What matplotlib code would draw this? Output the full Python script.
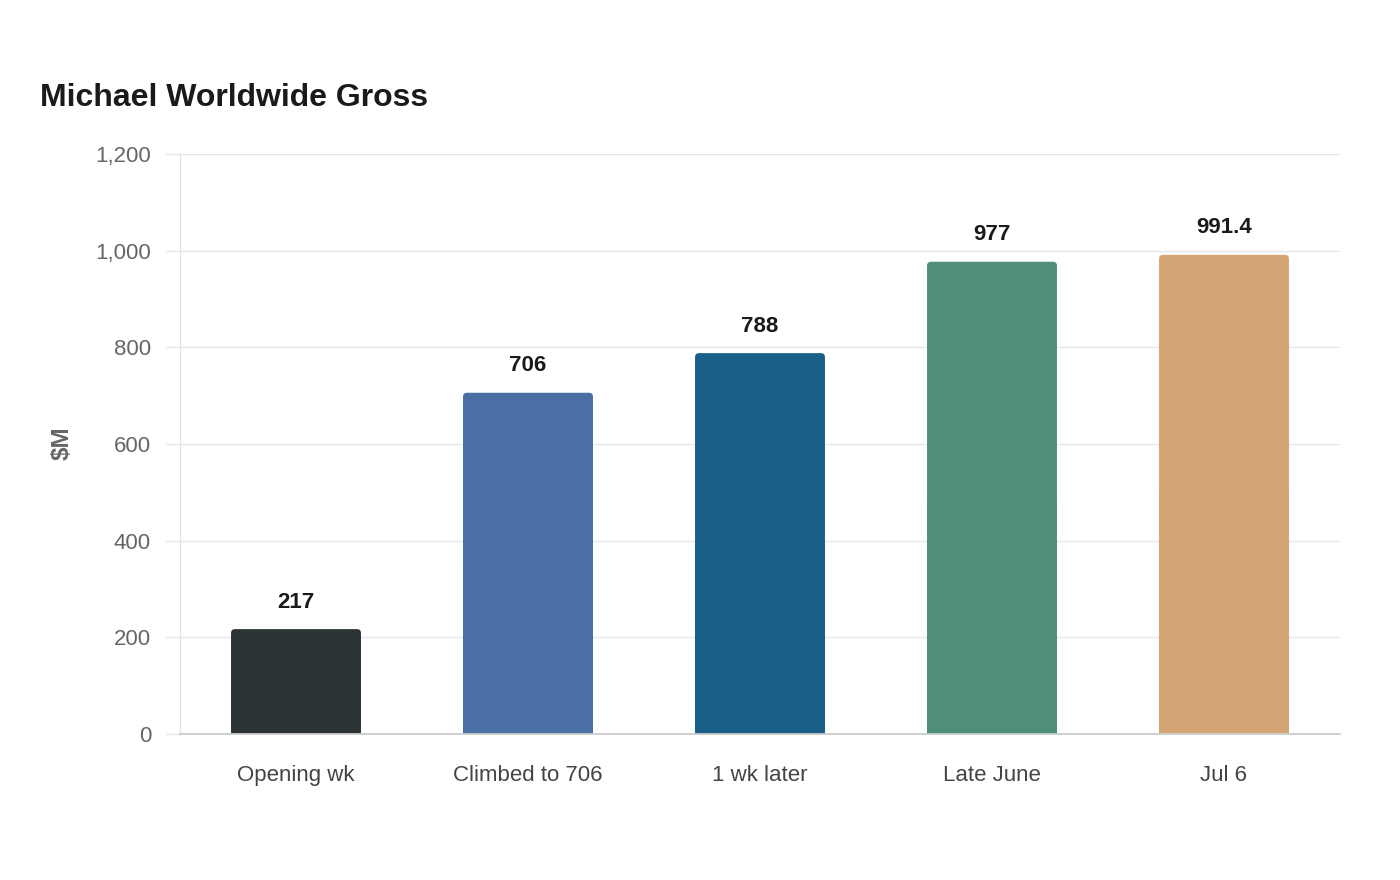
import matplotlib
matplotlib.use("Agg")
import matplotlib.pyplot as plt
from matplotlib.patches import FancyBboxPatch, Rectangle

plt.rcParams['font.family'] = ['Liberation Sans', 'DejaVu Sans']

# data
categories = ["Opening wk", "Climbed to 706", "1 wk later", "Late June", "Jul 6"]
values = [217, 706, 788, 977, 991.4]
labels = ["217", "706", "788", "977", "991.4"]
colors = ["#2d3436", "#4a6fa5", "#1a5f87", "#4f8e7b", "#d4a574"]

fig = plt.figure(figsize=(14, 8.8), dpi=100)
ax = fig.add_axes([180/1400, 1 - 734/880, 1160/1400, 580/880])

x = list(range(len(categories)))
bars = ax.bar(x, values, width=0.56, color=colors, zorder=2)
ax.set_xlim(-0.5, len(categories) - 0.5)
ax.set_ylim(0, 1200)

# rounded top corners
px_x = 1160 / len(categories)   # px per x unit
px_y = 580 / 1200               # px per y unit
r = 4 / px_x
aspect = (4 / px_y) / r
for b, c in zip(bars, colors):
    bx, by, bw, bh = b.get_x(), b.get_y(), b.get_width(), b.get_height()
    b.set_visible(False)
    ax.add_patch(FancyBboxPatch((bx, by), bw, bh,
                                boxstyle=f"round,pad=0,rounding_size={r}",
                                mutation_aspect=aspect, fc=c, ec="none", zorder=2))
    ax.add_patch(Rectangle((bx, by), bw, bh / 2, fc=c, ec="none", zorder=2))

for xi, v, lab in zip(x, values, labels):
    ax.annotate(lab, (xi, v), xytext=(0, 15.5), textcoords="offset points",
                ha="center", va="baseline", fontsize=16, fontweight="bold",
                color="#1a1a1a")

ax.set_yticks(range(0, 1201, 200))
ax.set_yticklabels([f"{t:,}" for t in range(0, 1201, 200)])
ax.set_xticks(x)
ax.set_xticklabels(categories)
ax.grid(axis="y", color="#e6e6e6", linewidth=1, zorder=0)
ax.tick_params(axis="y", length=10.8, width=1, color="#e6e6e6", pad=10,
               labelsize=16, labelcolor="#666666")
ax.tick_params(axis="x", length=0, pad=22, labelsize=16, labelcolor="#444444")

for s in ["top", "right"]:
    ax.spines[s].set_visible(False)
ax.spines["left"].set_color("#e0e0e0")
ax.spines["bottom"].set_color("#cccccc")
ax.spines["bottom"].set_linewidth(1.3)
ax.spines["bottom"].set_zorder(5)

fig.text(40/1400, 1 - 106/880, "Michael Worldwide Gross", fontsize=23,
         fontweight="bold", color="#1a1a1a", ha="left", va="baseline")
fig.text(62/1400, 1 - 443/880, "$M", rotation=90, fontsize=17.5,
         fontweight="bold", color="#666666", ha="center", va="center")

fig.savefig("out.png", dpi=100, facecolor="white")
